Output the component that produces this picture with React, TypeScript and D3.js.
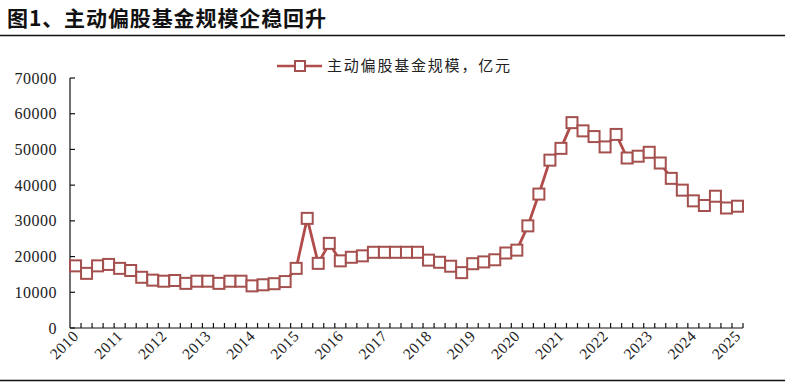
import React from "react";
import * as d3 from "d3";

const years = ["2010","2011","2012","2013","2014","2015","2016","2017","2018","2019","2020","2021","2022","2023","2024","2025"];
const quarters = d3.range(61).map(i => `${2010 + Math.floor(i / 4)}Q${(i % 4) + 1}`);
const values = [
  17400, 15300, 17400, 17800, 16700, 16100, 14200, 13400,
  13100, 13300, 12500, 13100, 13100, 12500, 13100, 13100,
  11800, 12100, 12400, 13000, 16700, 30700, 18100, 23700,
  18800, 19800, 20200, 21200, 21200, 21200, 21200, 21200,
  19000, 18400, 17300, 15500, 18000, 18500, 19100, 21000,
  21800, 28600, 37500, 47000, 50300, 57500, 55200, 53600,
  50700, 54200, 47600, 48100, 49200, 46200, 41900, 38600,
  35600, 34300, 36900, 33600, 34100
];
const yTicks = [0, 10000, 20000, 30000, 40000, 50000, 60000, 70000];
const title = "图1、主动偏股基金规模企稳回升";
const legendLabel = "主动偏股基金规模，亿元";

export default function App() {
  const W = 785, H = 384;
  const left = 70, right = 743, top = 78, bottom = 328;
  const x = d3.scaleBand<string>().domain(quarters).range([left, right]);
  const y = d3.scaleLinear().domain([0, 70000]).range([bottom, top]);
  const cx = (q: string) => (x(q) as number) + x.bandwidth() / 2;
  const line = d3.line<number>().x((_, i) => cx(quarters[i])).y(d => y(d));
  const lineColor = "#b24c4a";
  const markColor = "#a4504e";
  const serif = "'Liberation Serif', 'Times New Roman', serif";
  const cjk = "'Noto Sans CJK SC', sans-serif";
  return (
    <svg width={W} height={H} style={{ position: "absolute", left: 0, top: 0, background: "#fff" }}>
      <text x={7} y={26} fontFamily={cjk} fontWeight="bold" fontSize={21} letterSpacing={0.9} fill="#111">{title}</text>
      <line x1={0} x2={W} y1={35.5} y2={35.5} stroke="#111" strokeWidth={1.6} />
      <line x1={0} x2={W} y1={380.5} y2={380.5} stroke="#111" strokeWidth={1.6} />
      {/* legend */}
      <line x1={277} x2={322} y1={66} y2={66} stroke={lineColor} strokeWidth={2.5} />
      <rect x={295} y={61} width={10} height={10} fill="#fff" stroke={markColor} strokeWidth={2} />
      <text x={327} y={71} fontFamily={cjk} fontSize={15} letterSpacing={1.8} fill="#222">{legendLabel}</text>
      {/* y axis */}
      <line x1={left} x2={left} y1={top} y2={bottom} stroke="#111" strokeWidth={1.2} />
      {yTicks.map(t => (
        <g key={t}>
          <line x1={left} x2={left + 5} y1={y(t)} y2={y(t)} stroke="#111" strokeWidth={1.2} />
          <text x={57} y={y(t) + 5.5} textAnchor="end" fontFamily={serif} fontSize={16} letterSpacing={0.5} fill="#222">{t}</text>
        </g>
      ))}
      {/* x axis */}
      <line x1={left} x2={right} y1={bottom} y2={bottom} stroke="#111" strokeWidth={1.2} />
      {quarters.map((q) => (
        <line key={q} x1={(x(q) as number) + x.bandwidth()} x2={(x(q) as number) + x.bandwidth()} y1={bottom} y2={bottom - 5} stroke="#111" strokeWidth={1.2} />
      ))}
      {years.map((yr, i) => {
        const q = quarters[i * 4];
        const px = cx(q) + 4, py = bottom + 9;
        return (
          <text key={yr} x={px} y={py} textAnchor="end" transform={`rotate(-45 ${px} ${py})`} fontFamily={serif} fontSize={15.5} letterSpacing={0.5} fill="#222">{yr}</text>
        );
      })}
      {/* series */}
      <path d={line(values) || ""} fill="none" stroke={lineColor} strokeWidth={2.8} strokeLinejoin="round" />
      {values.map((v, i) => (
        <rect key={i} x={cx(quarters[i]) - 5.5} y={y(v) - 5.5} width={11} height={11} fill="#fff" stroke={markColor} strokeWidth={2} />
      ))}
    </svg>
  );
}
